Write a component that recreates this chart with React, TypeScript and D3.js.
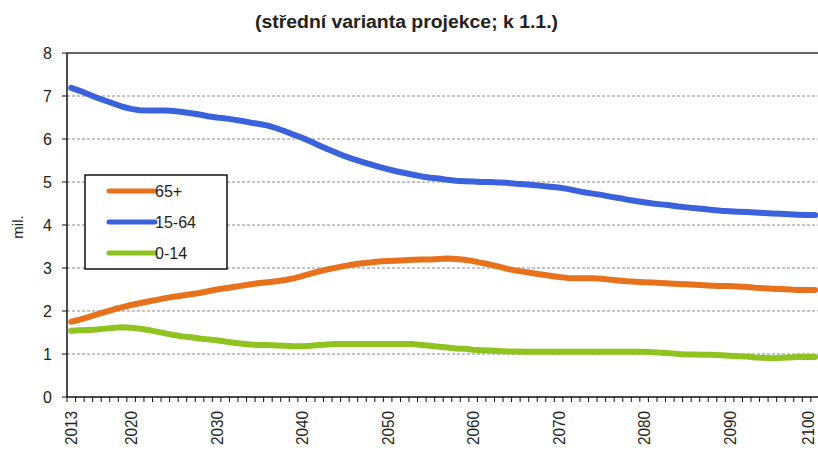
import React from "react";
import * as d3 from "d3";

const years: number[] = d3.range(2013, 2101);

const series65: number[] = [
  1.75, 1.80, 1.86, 1.92, 1.98, 2.04, 2.09, // 2013-2019
  2.14, 2.18, 2.22, 2.26, 2.30, 2.33, 2.36, 2.39, 2.42, 2.46, // 2020s
  2.50, 2.53, 2.56, 2.59, 2.62, 2.65, 2.67, 2.69, 2.72, 2.76, // 2030s
  2.81, 2.87, 2.92, 2.97, 3.01, 3.05, 3.08, 3.11, 3.13, 3.15, // 2040s
  3.16, 3.17, 3.18, 3.19, 3.20, 3.20, 3.21, 3.22, 3.21, 3.19, // 2050s
  3.16, 3.12, 3.08, 3.03, 2.98, 2.94, 2.91, 2.88, 2.85, 2.82, // 2060s
  2.79, 2.77, 2.76, 2.76, 2.76, 2.75, 2.73, 2.71, 2.69, 2.68, // 2070s
  2.67, 2.66, 2.65, 2.64, 2.63, 2.62, 2.61, 2.60, 2.59, 2.58, // 2080s
  2.58, 2.57, 2.56, 2.54, 2.53, 2.52, 2.51, 2.50, 2.49, 2.49, // 2090s
  2.49, // 2100
];

const series1564: number[] = [
  7.19, 7.12, 7.04, 6.96, 6.89, 6.82, 6.75,
  6.70, 6.67, 6.66, 6.66, 6.66, 6.65, 6.63, 6.60, 6.57, 6.53,
  6.50, 6.48, 6.45, 6.42, 6.38, 6.35, 6.31, 6.25, 6.18, 6.10,
  6.03, 5.94, 5.85, 5.76, 5.68, 5.60, 5.53, 5.47, 5.41, 5.35,
  5.30, 5.25, 5.21, 5.17, 5.13, 5.10, 5.08, 5.05, 5.03, 5.02,
  5.01, 5.00, 5.00, 4.99, 4.98, 4.96, 4.95, 4.93, 4.91, 4.89,
  4.87, 4.84, 4.80, 4.76, 4.73, 4.70, 4.66, 4.63, 4.59, 4.56,
  4.53, 4.50, 4.48, 4.46, 4.43, 4.41, 4.39, 4.37, 4.35, 4.33,
  4.32, 4.31, 4.30, 4.29, 4.28, 4.27, 4.26, 4.25, 4.24, 4.23,
  4.23,
];

const series014: number[] = [
  1.54, 1.55, 1.56, 1.57, 1.59, 1.61, 1.62,
  1.61, 1.59, 1.56, 1.52, 1.48, 1.44, 1.41, 1.39, 1.36, 1.34,
  1.32, 1.29, 1.26, 1.24, 1.22, 1.21, 1.21, 1.20, 1.19, 1.18,
  1.18, 1.19, 1.21, 1.22, 1.23, 1.23, 1.23, 1.23, 1.23, 1.23,
  1.23, 1.23, 1.23, 1.23, 1.21, 1.19, 1.17, 1.15, 1.13, 1.12,
  1.10, 1.09, 1.08, 1.07, 1.06, 1.06, 1.05, 1.05, 1.05, 1.05,
  1.05, 1.05, 1.05, 1.05, 1.05, 1.05, 1.05, 1.05, 1.05, 1.05,
  1.05, 1.04, 1.03, 1.02, 1.00, 0.99, 0.99, 0.98, 0.98, 0.97,
  0.96, 0.95, 0.94, 0.92, 0.91, 0.90, 0.91, 0.92, 0.93, 0.93,
  0.93,
];

const seriesNames: string[] = ["65+", "15-64", "0-14"];
const seriesColors: string[] = ["#e8711c", "#3a62dc", "#8fc31f"];
const yTicks: number[] = [0, 1, 2, 3, 4, 5, 6, 7, 8];
const xTickYears: number[] = [2013, 2020, 2030, 2040, 2050, 2060, 2070, 2080, 2090, 2100];
const titleText = "(střední varianta projekce; k 1.1.)";
const yAxisLabel = "mil.";

const W = 818;
const H = 450;
const left = 67;
const top = 53;
const bottom = 397;
const band = 8.55;
const right = left + band * years.length;

export default function App() {
  const x = d3.scaleBand<number>().domain(years).range([left, right]).padding(0);
  const y = d3.scaleLinear().domain([0, 8]).range([bottom, top]);
  const allSeries = [series65, series1564, series014];
  const line = d3
    .line<number>()
    .x((_, i) => (x(years[i]) as number) + x.bandwidth() / 2)
    .y((v) => y(v))
    .curve(d3.curveLinear);

  const font = "'Liberation Sans', Arial, sans-serif";
  const boundaries = d3.range(years.length + 1).map((i) => left + i * x.bandwidth());

  const legendX = 85;
  const legendY = 175;
  const legendRows = [191, 222, 253];

  return (
    <svg
      width={W}
      height={H}
      style={{ position: "absolute", left: 0, top: 0, background: "#fff" }}
      fontFamily={font}
    >
      <rect x={0} y={0} width={W} height={H} fill="#fff" />
      <text
        x={255}
        y={28}
        fontSize={18}
        fontWeight="bold"
        fill="#222"
        textLength={303}
        lengthAdjust="spacingAndGlyphs"
      >
        {titleText}
      </text>

      {/* gridlines */}
      {yTicks.filter((t) => t > 0 && t < 8).map((t) => (
        <line key={t} x1={left} x2={W} y1={y(t)} y2={y(t)} stroke="#8a8a8a" strokeWidth={1} strokeDasharray="3,2" />
      ))}
      <line x1={left} x2={W} y1={y(8)} y2={y(8)} stroke="#333" strokeWidth={1.5} />

      {/* y axis */}
      <line x1={left} x2={left} y1={top} y2={bottom} stroke="#111" strokeWidth={1.5} />
      {yTicks.map((t) => (
        <g key={t}>
          <line x1={left - 5} x2={left} y1={y(t)} y2={y(t)} stroke="#111" strokeWidth={1} />
          <text x={52} y={y(t) + 6} textAnchor="end" fontSize={16} fill="#222">{t}</text>
        </g>
      ))}
      <text transform={`translate(23,227) rotate(-90)`} textAnchor="middle" fontSize={15} fill="#222">
        {yAxisLabel}
      </text>

      {/* x axis */}
      <line x1={left} x2={W} y1={bottom} y2={bottom} stroke="#111" strokeWidth={1.5} />
      {boundaries.map((bx, i) => (
        <line key={i} x1={bx} x2={bx} y1={bottom} y2={bottom + 5} stroke="#111" strokeWidth={1} />
      ))}
      {xTickYears.map((yr) => {
        const cx = (x(yr) as number) + x.bandwidth() / 2;
        return (
          <text
            key={yr}
            transform={`translate(${yr === 2100 ? cx - 1.5 : cx + 6},${bottom + 14}) rotate(-90)`}
            textAnchor="end"
            fontSize={16}
            fill="#222"
            textLength={34}
            lengthAdjust="spacingAndGlyphs"
          >
            {yr}
          </text>
        );
      })}

      {/* lines */}
      {allSeries.map((s, i) => (
        <path
          key={seriesNames[i]}
          d={line(s) as string}
          fill="none"
          stroke={seriesColors[i]}
          strokeWidth={6}
          strokeLinejoin="round"
          strokeLinecap="round"
        />
      ))}

      {/* legend */}
      <rect x={legendX} y={legendY} width={142} height={94} fill="#fff" stroke="#111" strokeWidth={1.5} />
      {seriesNames.map((n, i) => (
        <g key={n}>
          <line x1={109} x2={155} y1={legendRows[i]} y2={legendRows[i]} stroke={seriesColors[i]} strokeWidth={5} strokeLinecap="round" />
          <text x={155} y={legendRows[i] + 6} fontSize={16} fill="#222">{n}</text>
        </g>
      ))}
    </svg>
  );
}
